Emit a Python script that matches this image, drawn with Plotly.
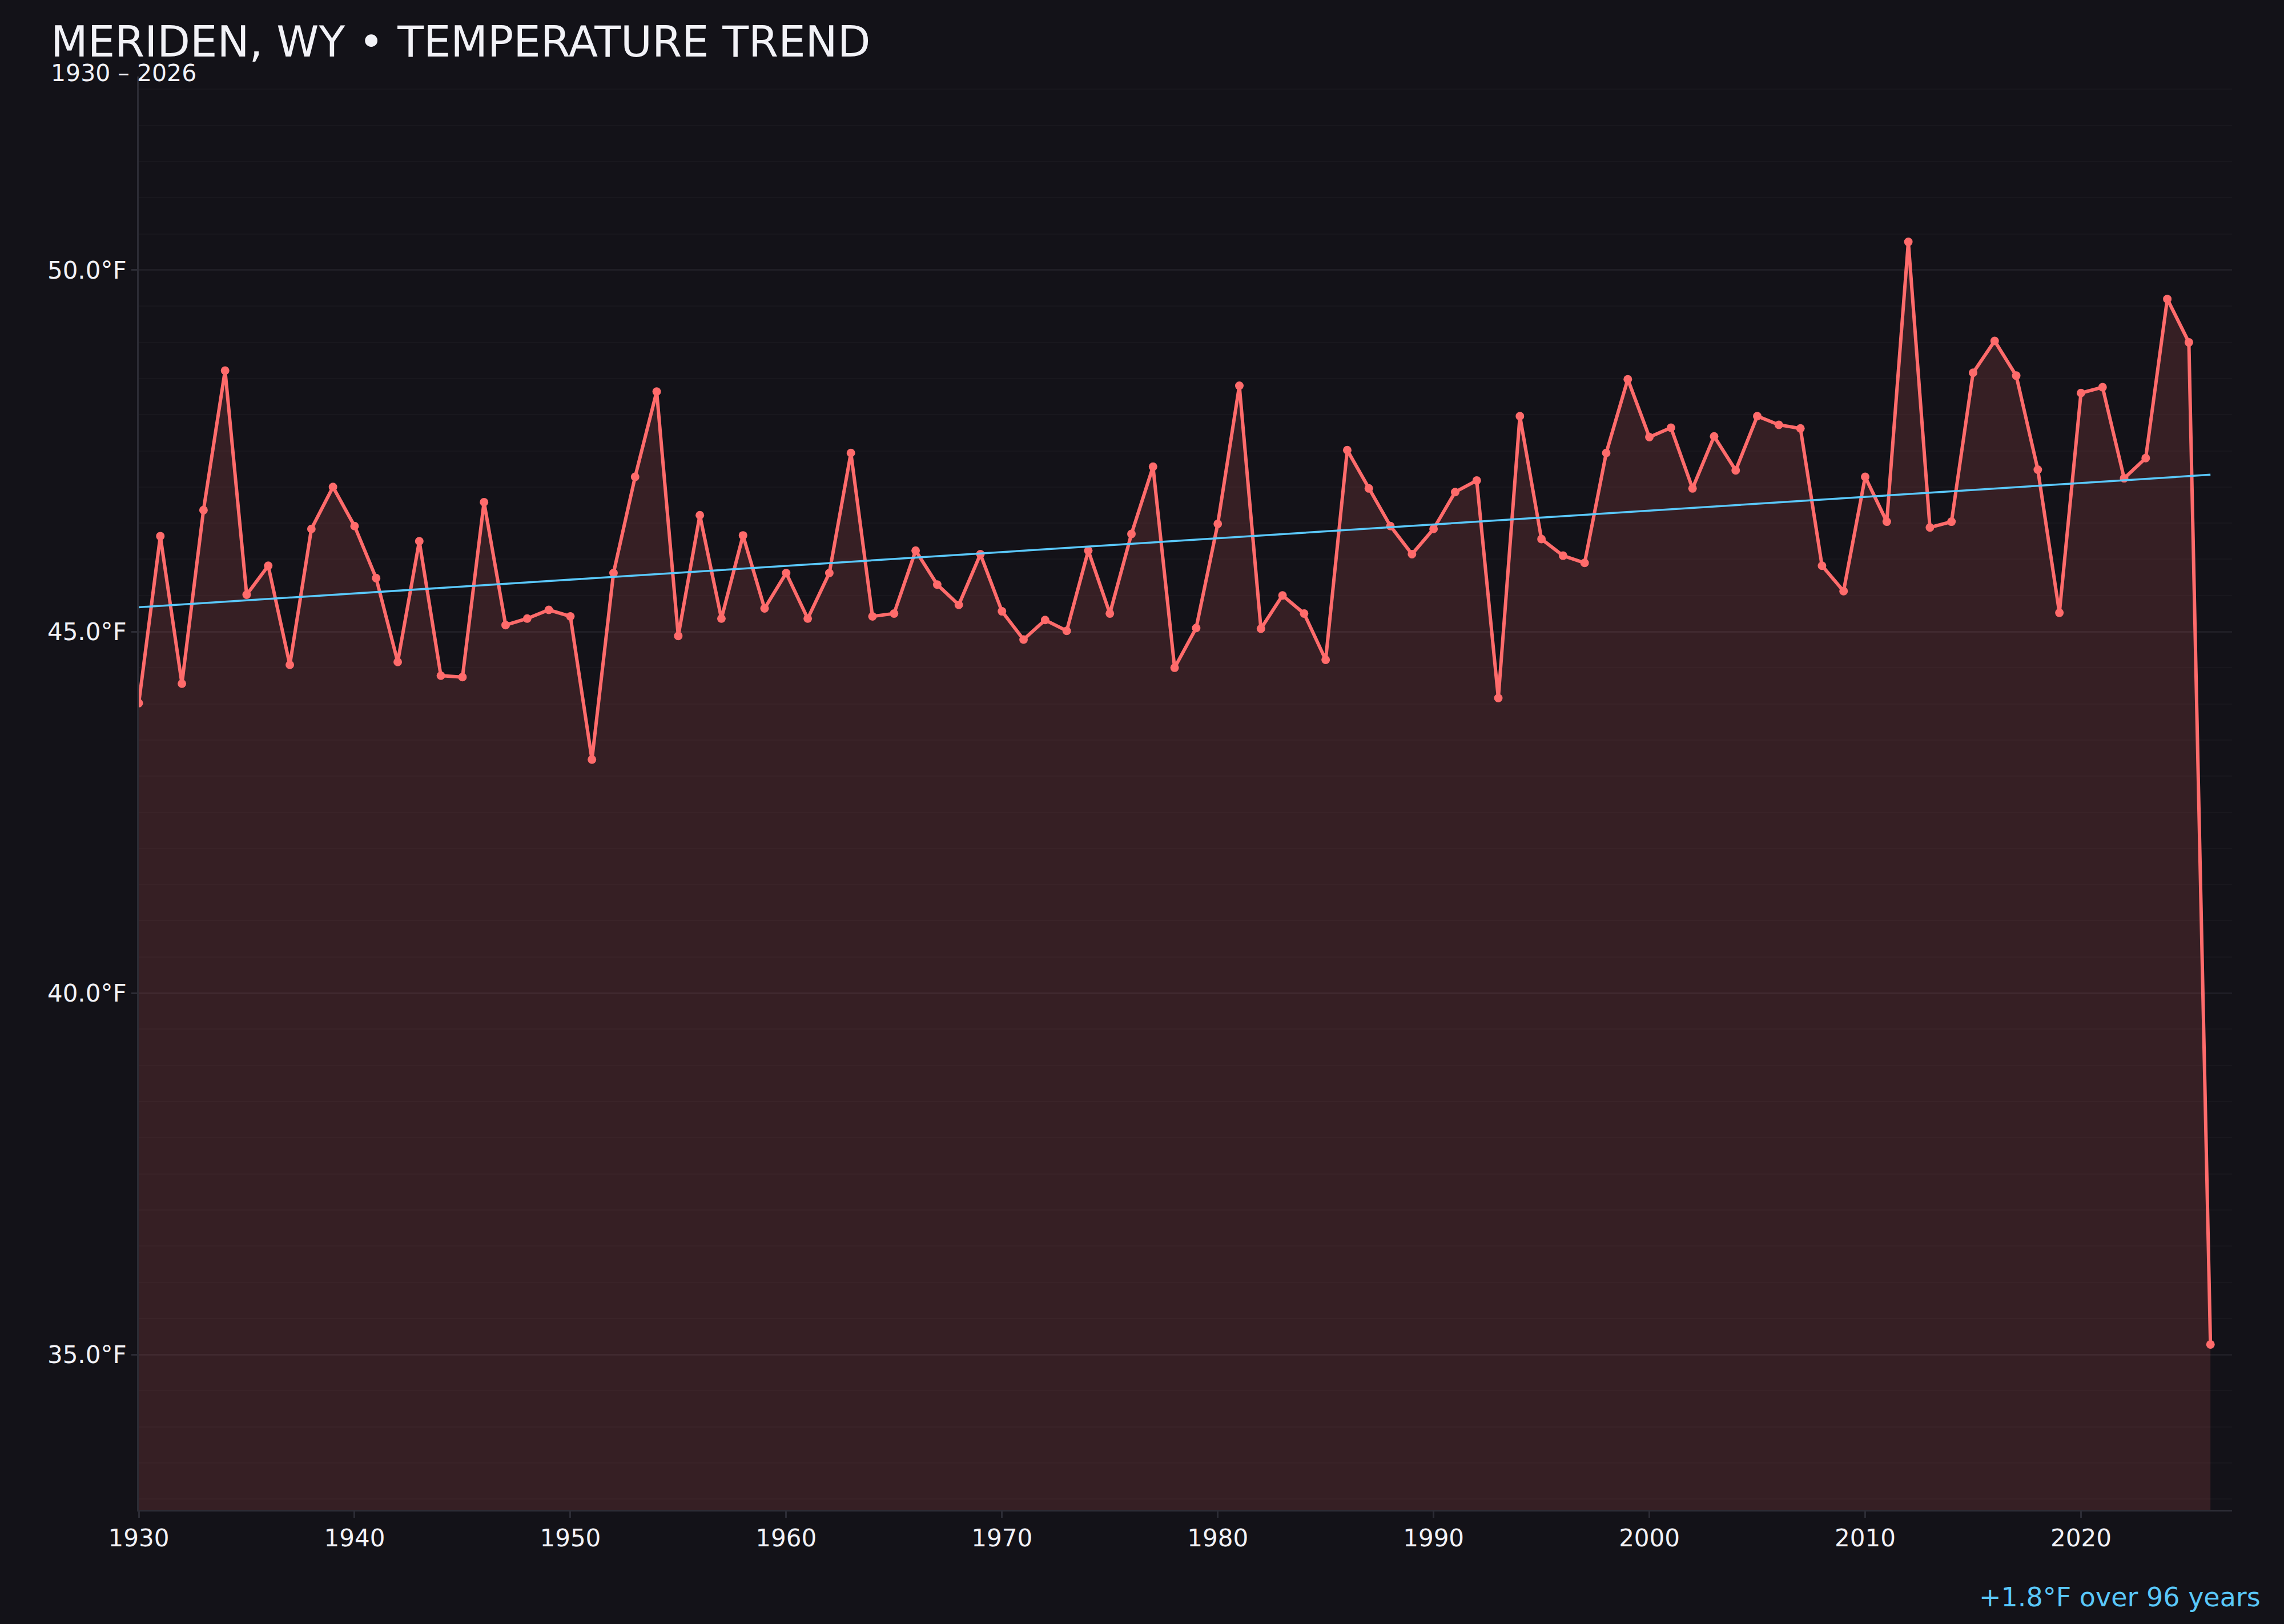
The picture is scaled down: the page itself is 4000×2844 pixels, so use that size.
import numpy as np
import plotly.graph_objects as go

# annual mean temperature, Meriden WY
years = list(range(1930, 2027))
temps = [
    44.01, 46.32, 44.28, 46.68, 48.61, 45.51, 45.91, 44.54, 46.42, 47.00,
    46.46, 45.74, 44.58, 46.25, 44.39, 44.37, 46.79, 45.09, 45.18, 45.30,
    45.21, 43.23, 45.81, 47.14, 48.32, 44.94, 46.61, 45.18, 46.33, 45.32,
    45.81, 45.18, 45.81, 47.47, 45.21, 45.25, 46.12, 45.65, 45.37, 46.07,
    45.28, 44.89, 45.16, 45.01, 46.12, 45.25, 46.35, 47.28, 44.50, 45.05,
    46.49, 48.40, 45.04, 45.50, 45.25, 44.61, 47.51, 46.98, 46.46, 46.07,
    46.42, 46.93, 47.09, 44.08, 47.98, 46.28, 46.05, 45.95, 47.47, 48.49,
    47.69, 47.82, 46.98, 47.70, 47.23, 47.98, 47.86, 47.81, 45.91, 45.56,
    47.14, 46.52, 50.39, 46.44, 46.52, 48.58, 49.02, 48.54, 47.24, 45.26,
    48.30, 48.38, 47.12, 47.40, 49.60, 49.00, 35.14,
]

BG = "#131218"
RED = "#ff6b6b"
BLUE = "#5ac8fa"
TXT = "#f2f2f7"
FONT = "DejaVu Sans"

# linear trend
slope, icpt = np.polyfit(years, temps, 1)
trend = [slope * y + icpt for y in years]
change = slope * (years[-1] - years[0])

lo, hi = min(temps), max(temps)
pad = (hi - lo) * 0.15

fig = go.Figure()
fig.add_trace(go.Scatter(
    x=years, y=temps, mode="lines+markers",
    line=dict(color=RED, width=6),
    marker=dict(color=RED, size=15),
    fill="tozeroy", fillcolor="rgba(255,107,107,0.15)",
    showlegend=False,
))
fig.add_trace(go.Scatter(
    x=years, y=trend, mode="lines",
    line=dict(color=BLUE, width=3.5),
    showlegend=False,
))

fig.update_layout(
    width=4000, height=2844,
    paper_bgcolor=BG, plot_bgcolor=BG,
    margin=dict(l=243, r=91, t=134, b=200),
    font=dict(family=FONT, color=TXT, size=42),
)
fig.update_xaxes(
    range=[1930, 2027], dtick=10, tick0=1930,
    showgrid=False, zeroline=False,
    showline=True, linecolor="#2c2c35", linewidth=3,
    ticks="outside", ticklen=11, tickwidth=3, tickcolor="#2c2c35",
    tickfont=dict(size=42, color=TXT),
)
fig.update_yaxes(
    range=[lo - pad, hi + pad], dtick=5, tick0=0,
    tickformat=".1f", ticksuffix="°F",
    showgrid=True, gridcolor="#1f1e25", gridwidth=3,
    minor=dict(dtick=0.5, showgrid=True, gridcolor="#18171d", gridwidth=2),
    zeroline=False,
    showline=True, linecolor="#2c2c35", linewidth=3,
    ticks="outside", ticklen=10, tickwidth=3, tickcolor="#2c2c35",
    tickfont=dict(size=42, color=TXT),
)

fig.add_annotation(
    text="MERIDEN, WY • TEMPERATURE TREND",
    xref="paper", yref="paper", x=-0.0425, y=1.0245,
    xanchor="left", yanchor="middle", showarrow=False,
    font=dict(size=75, color=TXT, family=FONT),
)
fig.add_annotation(
    text="1930 – 2026",
    xref="paper", yref="paper", x=-0.0425, y=1.0024,
    xanchor="left", yanchor="middle", showarrow=False,
    font=dict(size=41, color=TXT, family=FONT),
)
fig.add_annotation(
    text=f"{change:+.1f}°F over {years[-1] - years[0]} years",
    xref="paper", yref="paper", x=1.0142, y=-0.061,
    xanchor="right", yanchor="middle", showarrow=False,
    font=dict(size=46, color=BLUE, family=FONT),
)

fig.write_html(
    "out.html",
    config={"displayModeBar": False},
    post_script="document.body.style.margin='0';document.body.style.overflow='hidden';",
)
